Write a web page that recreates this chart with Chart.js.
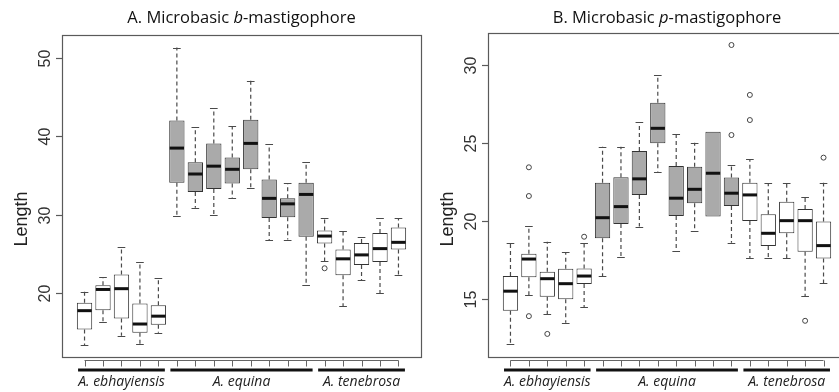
<!DOCTYPE html>
<html><head><meta charset="utf-8">
<script src="https://cdn.jsdelivr.net/npm/chart.js@4"></script>
<style>
html,body{margin:0;padding:0;width:839px;height:392px;overflow:hidden;background:#fff;}
#ca{position:absolute;left:0;top:0;}
#cb{position:absolute;left:430px;top:0;}
</style></head><body>
<canvas id="ca" width="430" height="392"></canvas>
<canvas id="cb" width="430" height="392"></canvas>
<script>
// ---- data ----
const groupNames = ['A. ebhayiensis', 'A. equina', 'A. tenebrosa'];
const groupSizes = [5, 8, 5];
const groupFill = ['#ffffff', '#aaaaaa', '#ffffff'];
const yTicksA = [20, 30, 40, 50];
const yTicksB = [15, 20, 25, 30];

// Panel A: Microbasic b-mastigophore
const aLow  = [13.4, 16.4, 14.6, 13.5, 15.0, 29.9, 30.9, 30.0, 32.1, 33.4, 26.8, 26.85, 21.1, 24.1, 18.4, 21.7, 20.0, 22.4];
const aQ1   = [15.4, 17.85, 16.8, 15.0, 16.0, 34.1, 32.9, 33.3, 34.0, 35.8, 29.6, 29.7, 27.2, 26.35, 22.3, 23.6, 24.0, 25.6];
const aMed  = [17.8, 20.5, 20.6, 16.1, 17.1, 38.5, 35.2, 36.2, 35.8, 39.1, 32.1, 31.4, 32.6, 27.3, 24.4, 24.9, 25.7, 26.5];
const aQ3   = [18.8, 21.05, 22.4, 18.7, 18.5, 42.0, 36.7, 39.1, 37.3, 42.1, 34.5, 32.1, 34.1, 28.0, 25.6, 26.4, 27.7, 28.4];
const aHigh = [20.2, 22.1, 25.9, 24.0, 22.0, 51.3, 41.15, 43.6, 41.3, 47.1, 39.0, 34.0, 36.7, 29.6, 28.0, 27.2, 29.6, 29.6];
const aOutIdx = [13];
const aOutVal = [23.2];

// Panel B: Microbasic p-mastigophore
const bLow  = [12.1, 15.26, 14.04, 13.48, 14.47, 16.47, 17.67, 19.64, 23.16, 18.1, 19.38, 20.28, 18.61, 17.6, 17.6, 17.6, 15.19, 16.0];
const bQ1   = [14.25, 16.4, 15.15, 14.98, 15.96, 18.89, 19.8, 21.67, 24.98, 20.32, 21.13, 20.28, 20.96, 20.0, 18.4, 19.21, 18.03, 17.6];
const bMed  = [15.5, 17.56, 16.3, 15.98, 16.47, 20.21, 20.92, 22.7, 25.94, 21.46, 22.03, 23.06, 21.78, 21.67, 19.21, 20.02, 20.02, 18.42];
const bQ3   = [16.47, 17.9, 16.75, 16.94, 16.96, 22.45, 22.8, 24.49, 27.58, 23.53, 23.48, 25.72, 22.78, 22.45, 20.43, 21.24, 20.77, 19.96];
const bHigh = [18.57, 19.7, 18.67, 17.99, 18.57, 24.76, 24.76, 26.33, 29.36, 25.56, 25.02, 25.72, 23.59, 23.96, 22.42, 22.42, 21.56, 22.45];
const bOutIdx = [1, 1, 1, 2, 4, 12, 12, 13, 13, 16, 17];
const bOutVal = [23.44, 21.6, 13.9, 12.76, 18.99, 31.28, 25.51, 28.08, 26.47, 13.6, 24.06];

const titleA = [['A. Microbasic ', false], ['b', true], ['-mastigophore', false]];
const titleB = [['B. Microbasic ', false], ['p', true], ['-mastigophore', false]];
const yLabel = 'Length';

// ---- helpers ----
function fillsFor() {
  const f = [];
  groupSizes.forEach((n, g) => { for (let k = 0; k < n; k++) f.push(groupFill[g]); });
  return f;
}

function makePlugin(P) {
  return {
    id: 'boxplot_' + P.key,
    beforeDatasetsDraw(chart) {
      const ctx = chart.ctx, xs = chart.scales.x, ys = chart.scales.y;
      const meta = chart.getDatasetMeta(0);
      ctx.save();
      for (let i = 0; i < P.med.length; i++) {
        const x = xs.getPixelForValue(i);
        const bw = meta.data[i].width;
        const cap = bw * 0.25;
        ctx.strokeStyle = '#4a4a4a';
        ctx.lineWidth = 1.2;
        ctx.setLineDash([4, 3]);
        ctx.beginPath();
        if (P.high[i] > P.q3[i]) { ctx.moveTo(x, ys.getPixelForValue(P.q3[i])); ctx.lineTo(x, ys.getPixelForValue(P.high[i])); }
        if (P.low[i] < P.q1[i]) { ctx.moveTo(x, ys.getPixelForValue(P.q1[i])); ctx.lineTo(x, ys.getPixelForValue(P.low[i])); }
        ctx.stroke();
        ctx.setLineDash([]);
        ctx.beginPath();
        if (P.high[i] > P.q3[i]) { const yh = Math.round(ys.getPixelForValue(P.high[i])) + 0.5; ctx.moveTo(x - cap, yh); ctx.lineTo(x + cap, yh); }
        if (P.low[i] < P.q1[i]) { const yl = Math.round(ys.getPixelForValue(P.low[i])) + 0.5; ctx.moveTo(x - cap, yl); ctx.lineTo(x + cap, yl); }
        ctx.stroke();
      }
      ctx.restore();
    },
    afterDatasetsDraw(chart) {
      const ctx = chart.ctx, xs = chart.scales.x, ys = chart.scales.y;
      const a = chart.chartArea;
      const meta = chart.getDatasetMeta(0);
      ctx.save();
      // medians
      ctx.strokeStyle = '#111';
      ctx.lineWidth = 3;
      for (let i = 0; i < P.med.length; i++) {
        const x = xs.getPixelForValue(i), bw = meta.data[i].width;
        const y = ys.getPixelForValue(P.med[i]);
        ctx.beginPath(); ctx.moveTo(x - bw / 2 + 0.5, y); ctx.lineTo(x + bw / 2 - 0.5, y); ctx.stroke();
      }
      // frame
      ctx.strokeStyle = '#5a5a5a';
      ctx.lineWidth = 1.2;
      ctx.strokeRect(Math.round(a.left) + 0.5, Math.round(a.top) + 0.5, Math.round(a.right - a.left), Math.round(a.bottom - a.top));
      // y axis ticks + labels
      ctx.fillStyle = '#333';
      ctx.font = '16px "Liberation Sans", Arial, sans-serif';
      ctx.textAlign = 'center';
      ctx.textBaseline = 'middle';
      P.yTicks.forEach(v => {
        const y = Math.round(ys.getPixelForValue(v)) + 0.5;
        ctx.beginPath(); ctx.moveTo(a.left - 6, y); ctx.lineTo(a.left, y); ctx.stroke();
        ctx.save(); ctx.translate(a.left - 16, y); ctx.rotate(-Math.PI / 2); ctx.fillText(String(v), 0, 0); ctx.restore();
      });
      // y label
      ctx.save();
      ctx.font = '18px "Liberation Sans", Arial, sans-serif';
      ctx.fillStyle = '#222';
      ctx.translate(a.left - 40, 219); ctx.rotate(-Math.PI / 2); ctx.fillText(yLabel, 0, 0);
      ctx.restore();
      // x axis line + ticks
      const n = P.med.length;
      const yAx = a.bottom + 3.5;
      ctx.strokeStyle = '#666';
      ctx.lineWidth = 1;
      ctx.beginPath();
      ctx.moveTo(xs.getPixelForValue(0), yAx); ctx.lineTo(xs.getPixelForValue(n - 1), yAx);
      for (let i = 0; i < n; i++) {
        const x = Math.round(xs.getPixelForValue(i)) + 0.5;
        ctx.moveTo(x, yAx); ctx.lineTo(x, yAx + 6);
      }
      ctx.stroke();
      // group bars + labels
      let start = 0;
      groupSizes.forEach((sz, g) => {
        const x0 = xs.getPixelForValue(start - 0.35), x1 = xs.getPixelForValue(start + sz - 1 + 0.35);
        ctx.strokeStyle = '#111'; ctx.lineWidth = 3;
        ctx.beginPath(); ctx.moveTo(x0, a.bottom + 13); ctx.lineTo(x1, a.bottom + 13); ctx.stroke();
        ctx.font = 'italic 14px "Open Sans", sans-serif';
        ctx.fillStyle = '#222';
        ctx.textAlign = 'center'; ctx.textBaseline = 'middle';
        ctx.fillText(groupNames[g], xs.getPixelForValue(start + (sz - 1) / 2), a.bottom + 25);
        start += sz;
      });
      // title
      ctx.textBaseline = 'middle'; ctx.textAlign = 'left'; ctx.fillStyle = '#111';
      let total = 0;
      const tf = '16.5px "Open Sans", sans-serif';
      const w = P.title.map(([t, it]) => { ctx.font = (it ? 'italic ' : '') + tf; const m = ctx.measureText(t).width; total += m; return m; });
      let tx = (a.left + a.right) / 2 - total / 2;
      P.title.forEach(([t, it], k) => { ctx.font = (it ? 'italic ' : '') + tf; ctx.fillText(t, tx, 18); tx += w[k]; });
      ctx.restore();
    }
  };
}

function build(canvasId, P) {
  const fills = fillsFor();
  new Chart(document.getElementById(canvasId), {
    type: 'bar',
    data: {
      datasets: [
        {
          type: 'bar',
          data: P.q1.map((v, i) => ({ x: i, y: [v, P.q3[i]] })),
          backgroundColor: fills,
          borderColor: '#333',
          borderWidth: 1,
          borderSkipped: false,
          barPercentage: 0.83,
          categoryPercentage: 1
        },
        {
          type: 'scatter',
          data: P.outIdx.map((ix, k) => ({ x: ix, y: P.outVal[k] })),
          pointStyle: 'circle',
          pointRadius: 2.5,
          pointBorderColor: '#444',
          pointBorderWidth: 1,
          pointBackgroundColor: '#fff',
          showLine: false
        }
      ]
    },
    options: {
      responsive: false,
      animation: false,
      devicePixelRatio: 1,
      layout: { padding: P.pad },
      plugins: { legend: { display: false }, tooltip: { enabled: false } },
      scales: {
        x: { type: 'linear', min: -1.22, max: 18.22, offset: false, display: false },
        y: { type: 'linear', min: P.ymin, max: P.ymax, display: false }
      }
    },
    plugins: [makePlugin(P)]
  });
}

build('ca', { key: 'A', low: aLow, q1: aQ1, med: aMed, q3: aQ3, high: aHigh, outIdx: aOutIdx, outVal: aOutVal,
  yTicks: yTicksA, title: titleA, ymin: 11.9, ymax: 52.9, pad: { left: 62, right: 9, top: 35, bottom: 35 } });
build('cb', { key: 'B', low: bLow, q1: bQ1, med: bMed, q3: bQ3, high: bHigh, outIdx: bOutIdx, outVal: bOutVal,
  yTicks: yTicksB, title: titleB, ymin: 11.28, ymax: 32.05, pad: { left: 58, right: 14, top: 33, bottom: 35 } });
</script>
</body></html>
